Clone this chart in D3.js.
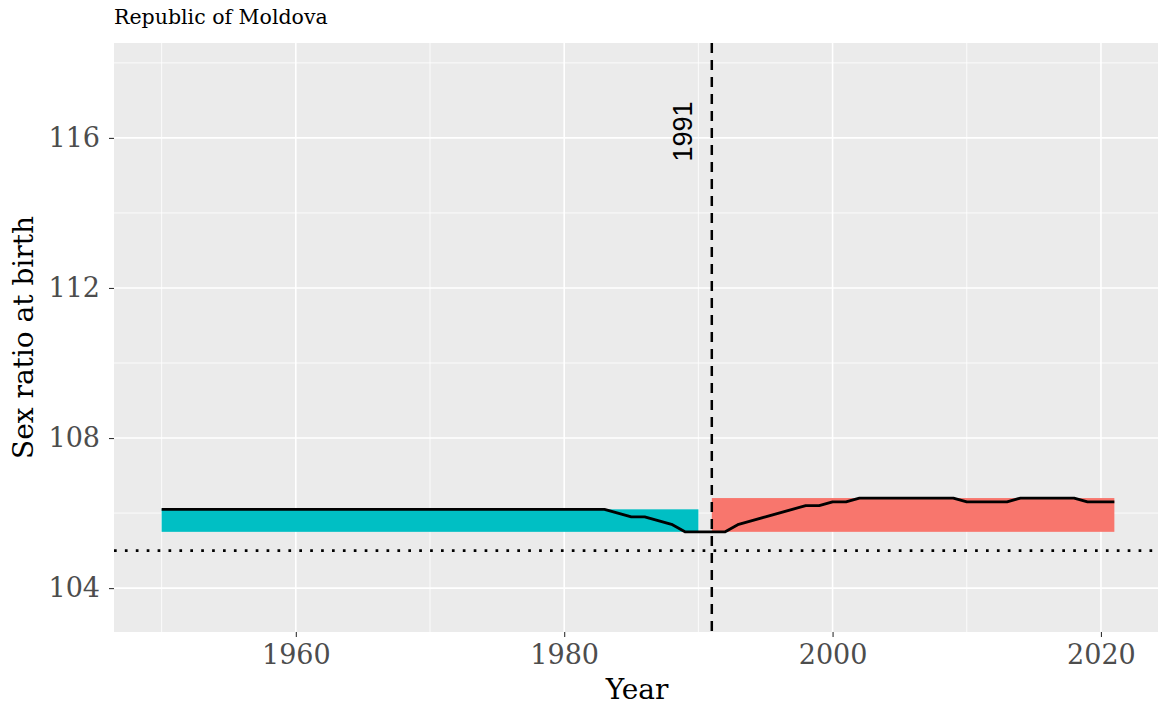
<!DOCTYPE html>
<html>
<head>
<meta charset="utf-8">
<script src="https://cdn.jsdelivr.net/npm/d3@7"></script>
<style>
  body { margin: 0; background: #fff; }
  svg { display: block; }
</style>
</head>
<body>
<svg id="chart" width="1158" height="707"></svg>
<script>
// Sex ratio at birth, Republic of Moldova
const years = d3.range(1950, 2022);
const ratio = [
  // 1950-1982
  106.1, 106.1, 106.1, 106.1, 106.1, 106.1, 106.1, 106.1, 106.1, 106.1,
  106.1, 106.1, 106.1, 106.1, 106.1, 106.1, 106.1, 106.1, 106.1, 106.1,
  106.1, 106.1, 106.1, 106.1, 106.1, 106.1, 106.1, 106.1, 106.1, 106.1,
  106.1, 106.1, 106.1,
  // 1983-1992
  106.1, 106.0, 105.9, 105.9, 105.8, 105.7, 105.5, 105.5, 105.5, 105.5,
  // 1993-2002
  105.7, 105.8, 105.9, 106.0, 106.1, 106.2, 106.2, 106.3, 106.3, 106.4,
  // 2003-2012
  106.4, 106.4, 106.4, 106.4, 106.4, 106.4, 106.4, 106.3, 106.3, 106.3,
  // 2013-2021
  106.3, 106.4, 106.4, 106.4, 106.4, 106.4, 106.3, 106.3, 106.3
];
const data = years.map((y, i) => ({ year: y, value: ratio[i] }));

// period ranges shown as bands
const periods = [
  { from: 1950, to: 1990, color: "#00BFC4" },
  { from: 1991, to: 2021, color: "#F8766D" }
];
const breakYear = 1991;
const refLine = 105;

const xTicks = [1960, 1980, 2000, 2020];
const xMinor = [1950, 1970, 1990, 2010];
const yTicks = [104, 108, 112, 116];
const yMinor = [106, 110, 114, 118];

const margin = { top: 43, left: 114 };
const panelW = 1048, panelH = 589;

const svg = d3.select("#chart");

const x = d3.scaleLinear().domain([1946.45, 2024.55]).range([margin.left, margin.left + panelW]);
const y = d3.scaleLinear().domain([102.83, 118.53]).range([margin.top + panelH, margin.top]);

// panel background
svg.append("rect")
  .attr("x", margin.left).attr("y", margin.top)
  .attr("width", panelW).attr("height", panelH)
  .attr("fill", "#EBEBEB");

const grid = svg.append("g");
// minor grid
xMinor.forEach(v => grid.append("line")
  .attr("x1", x(v)).attr("x2", x(v))
  .attr("y1", margin.top).attr("y2", margin.top + panelH)
  .attr("stroke", "#fff").attr("stroke-width", 0.8));
yMinor.forEach(v => grid.append("line")
  .attr("x1", margin.left).attr("x2", margin.left + panelW)
  .attr("y1", y(v)).attr("y2", y(v))
  .attr("stroke", "#fff").attr("stroke-width", 0.8));
// major grid
xTicks.forEach(v => grid.append("line")
  .attr("x1", x(v)).attr("x2", x(v))
  .attr("y1", margin.top).attr("y2", margin.top + panelH)
  .attr("stroke", "#fff").attr("stroke-width", 1.6));
yTicks.forEach(v => grid.append("line")
  .attr("x1", margin.left).attr("x2", margin.left + panelW)
  .attr("y1", y(v)).attr("y2", y(v))
  .attr("stroke", "#fff").attr("stroke-width", 1.6));

// period bands from min to max of the series in each period
periods.forEach(p => {
  const sub = data.filter(d => d.year >= p.from && d.year <= p.to);
  const lo = d3.min(sub, d => d.value), hi = d3.max(sub, d => d.value);
  svg.append("rect")
    .attr("x", x(p.from)).attr("width", x(p.to) - x(p.from))
    .attr("y", y(hi)).attr("height", y(lo) - y(hi))
    .attr("fill", p.color);
});

// reference dotted line
svg.append("line")
  .attr("x1", margin.left).attr("x2", margin.left + panelW)
  .attr("y1", y(refLine)).attr("y2", y(refLine))
  .attr("stroke", "#000").attr("stroke-width", 2.7)
  .attr("stroke-dasharray", "2.7,8.2");

// vertical dashed line
svg.append("line")
  .attr("x1", x(breakYear)).attr("x2", x(breakYear))
  .attr("y1", margin.top).attr("y2", margin.top + panelH)
  .attr("stroke", "#000").attr("stroke-width", 2.5)
  .attr("stroke-dasharray", "10,7");

svg.append("text")
  .attr("transform", `translate(${x(breakYear) - 20},${y(116.17)}) rotate(-90)`)
  .attr("text-anchor", "middle")
  .style("font-family", "Liberation Sans, Arial, sans-serif")
  .style("font-size", "27px")
  .text("1991");

// series line
const line = d3.line().x(d => x(d.year)).y(d => y(d.value));
svg.append("path")
  .datum(data)
  .attr("fill", "none")
  .attr("stroke", "#000")
  .attr("stroke-width", 2.8)
  .attr("stroke-linejoin", "round")
  .attr("d", line);

// axes
const xAxis = d3.axisBottom(x).tickValues(xTicks).tickFormat(d3.format("d")).tickSize(5).tickPadding(8);
const yAxis = d3.axisLeft(y).tickValues(yTicks).tickSize(5).tickPadding(9);

const gx = svg.append("g").attr("transform", `translate(0,${margin.top + panelH})`).call(xAxis);
const gy = svg.append("g").attr("transform", `translate(${margin.left},0)`).call(yAxis);
[gx, gy].forEach(g => {
  g.select(".domain").remove();
  g.selectAll(".tick line").attr("stroke", "#333").attr("stroke-width", 1.1);
  g.selectAll(".tick text")
    .attr("fill", "#4D4D4D")
    .style("font-family", "DejaVu Serif, serif")
    .style("font-size", "27px");
});

// titles
svg.append("text")
  .attr("x", margin.left).attr("y", 24)
  .style("font-family", "DejaVu Serif, serif")
  .style("font-size", "20.5px")
  .text("Republic of Moldova");

svg.append("text")
  .attr("x", 637).attr("y", 699)
  .attr("text-anchor", "middle")
  .style("font-family", "DejaVu Serif, serif")
  .style("font-size", "28px")
  .text("Year");

svg.append("text")
  .attr("transform", `translate(33,${margin.top + panelH / 2}) rotate(-90)`)
  .attr("text-anchor", "middle")
  .style("font-family", "DejaVu Serif, serif")
  .style("font-size", "28px")
  .text("Sex ratio at birth");
</script>
</body>
</html>
